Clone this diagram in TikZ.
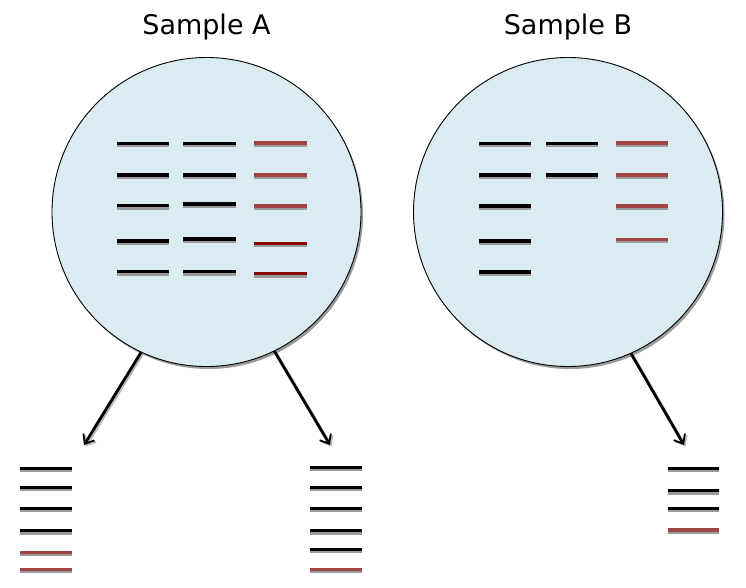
\documentclass[tikz,border=0pt]{standalone}
\usepackage{fontspec}
\setmainfont{DejaVu Sans}
\usetikzlibrary{arrows.meta}
\definecolor{cfill}{HTML}{DAECF2}
\definecolor{lred}{HTML}{A04545}
\definecolor{dred}{HTML}{8A0505}
\definecolor{shad}{HTML}{9A9A9A}
\newcommand{\band}[4]{%
  \draw[shad,line width=3pt] (#1,#3+2.4) -- (#2,#3+2.4);
  \draw[#4,line width=3.2pt] (#1,#3) -- (#2,#3);}
\tikzset{
  sample/.style={circle,draw=black,line width=0.9pt,fill=cfill,minimum size=309pt,inner sep=0pt},
  csh/.style={circle,fill=shad,minimum size=309pt,inner sep=0pt},
  title/.style={font=\fontsize{27}{32}\selectfont,inner sep=0pt},
  arr/.style={line width=2.8pt,-{Straight Barb[length=8pt,width=13pt,line width=1.8pt]}},
  arrsh/.style={shad!70,line width=2.8pt,-{Straight Barb[length=8pt,width=13pt,line width=1.8pt]}}
}
\begin{document}
\begin{tikzpicture}[x=1pt,y=-1pt]
\useasboundingbox (0,0) rectangle (746,587);
% titles
\node[title] (tA) at (206.5,27) {Sample A};
\node[title] (tB) at (568,27) {Sample B};
% circle shadows
\node[csh] (sA) at (208.5,214.5) {};
\node[csh] (sB) at (570,214.5) {};
% circles
\node[sample] (cA) at (206.5,212) {};
\node[sample] (cB) at (568,212) {};
% bands in A
\foreach \y in {143.3,175,205.7,241,271.7} {\band{117}{169}{\y}{black}}
\foreach \y in {143.3,175,204,239,271.7} {\band{183}{236}{\y}{black}}
\foreach \y in {143,175,206} {\band{254}{307}{\y}{lred}}
\foreach \y in {243.3,273.7} {\band{254}{307}{\y}{dred}}
% bands in B
\foreach \y in {143.3,175,206,241,272} {\band{479}{531}{\y}{black}}
\foreach \y in {143.3,175} {\band{546}{598}{\y}{black}}
\foreach \y in {143,175,206,239.3} {\band{616}{668}{\y}{lred}}
% arrow ends
\coordinate (eA1) at (84,445);
\coordinate (eA2) at (330,445);
\coordinate (eB1) at (684,445);
% arrow shadows
\draw[arrsh] ([shift={(1.5,1.5)}]cA.-115.1) -- ([shift={(1.5,1.5)}]eA1);
\draw[arrsh] ([shift={(1.5,1.5)}]cA.-64.2) -- ([shift={(1.5,1.5)}]eA2);
\draw[arrsh] ([shift={(1.5,1.5)}]cB.-66.4) -- ([shift={(1.5,1.5)}]eB1);
% arrows
\draw[arr] (cA.-115.1) -- (eA1);
\draw[arr] (cA.-64.2) -- (eA2);
\draw[arr] (cB.-66.4) -- (eB1);
% bottom stacks
\foreach \y in {468.3,487.3,508.3,530.7} {\band{20}{72}{\y}{black}}
\foreach \y in {552.3,569.3} {\band{20}{72}{\y}{lred}}
\foreach \y in {467.3,487.3,508.3,530.7,549.3} {\band{310}{362}{\y}{black}}
\band{310}{362}{569.3}{lred}
\foreach \y in {468.3,490.7,508.3} {\band{668}{719}{\y}{black}}
\band{668}{719}{530}{lred}
\end{tikzpicture}
\end{document}
